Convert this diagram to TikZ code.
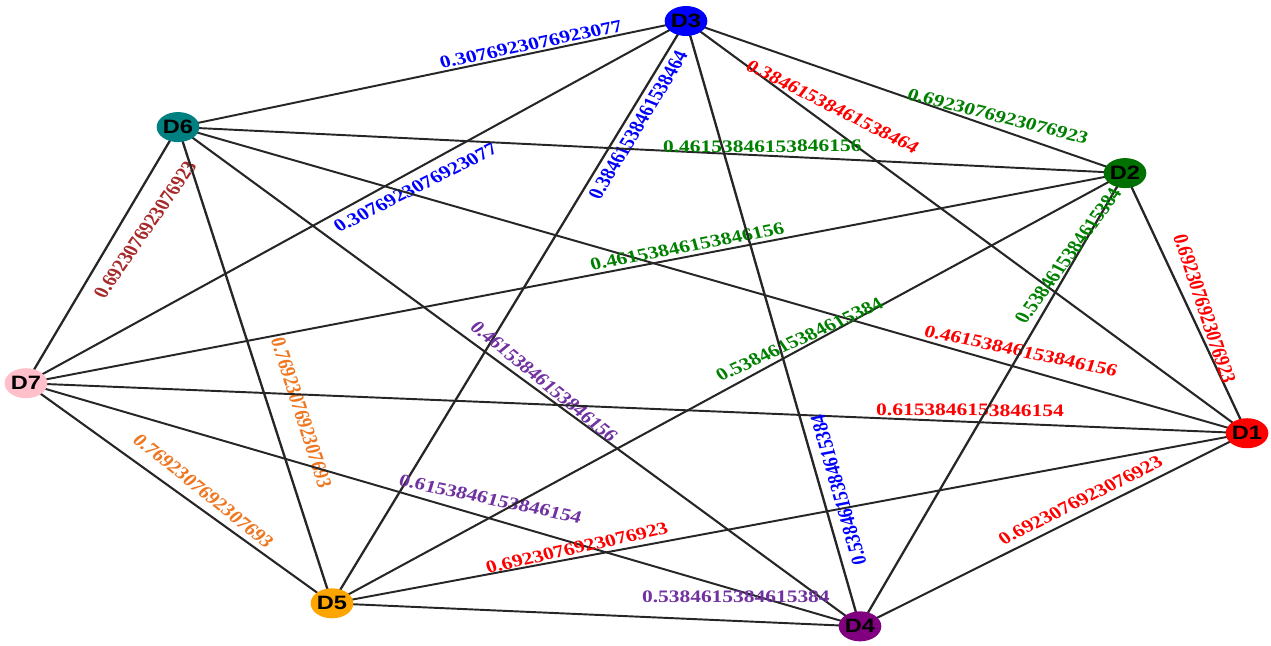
\documentclass[tikz,border=0pt]{standalone}
\usepackage{fontspec}
\usetikzlibrary{shapes.geometric,backgrounds}
\newfontfamily\lblfont{Liberation Serif}
\newfontfamily\vertexfont{Liberation Sans}
\definecolor{nodered}{HTML}{FF0000}
\definecolor{nodegreen}{HTML}{007000}
\definecolor{nodeblue}{HTML}{0000FF}
\definecolor{nodepurple}{HTML}{800080}
\definecolor{nodeorange}{HTML}{FFA500}
\definecolor{nodeteal}{HTML}{008080}
\definecolor{nodepink}{HTML}{FFC0CB}
\definecolor{lblblue}{HTML}{0000FF}
\definecolor{lblgreen}{HTML}{008000}
\definecolor{lblred}{HTML}{FF0000}
\definecolor{lblbrown}{HTML}{A52A2A}
\definecolor{lblorange}{HTML}{EE7722}
\definecolor{lblpurple}{HTML}{7032A0}
\begin{document}
\begin{tikzpicture}[x=0.0163934cm, y=-0.02cm,
      stretched/.style={transform canvas={xscale=1.22}},
      vertex/.style={ellipse, minimum width=0.59cm, minimum height=0.6cm, inner sep=0pt, font=\vertexfont\fontsize{11}{12}\selectfont\bfseries},
      link/.style={draw=black!85, line width=1.1pt},
      weight/.style={sloped, inner sep=1pt, font=\lblfont\fontsize{10}{12}\selectfont\bfseries}]
    \useasboundingbox (0,0) rectangle (1550.62,645);
    \begin{scope}[stretched]
      \foreach \n/\x/\y/\col in {D1/1247/433/nodered, D2/1125/173/nodegreen, D3/686/21/nodeblue, D4/860/626/nodepurple, D5/332/603/nodeorange, D6/178/127/nodeteal, D7/26/383/nodepink} {
        \node[vertex, fill=\col] (\n) at (\x, \y) {\n};
      }
    \end{scope}
    \begin{scope}[on background layer]
      \begin{scope}[stretched]
        \foreach \a/\b/\t/\side/\d/\r/\col/\w in {
            D6/D3/0.70/above/0/0/lblblue/0.3076923076923077,
            D7/D3/0.575/below/3.7/-2.2/lblblue/0.3076923076923077,
            D5/D3/0.83/below/1.4/0/lblblue/0.38461538461538464,
            D3/D2/0.70/above/1.8/5.8/lblgreen/0.6923076923076923,
            D3/D1/0.24/above/4.5/10.4/lblred/0.38461538461538464,
            D6/D2/0.617/above/0.2/3.7/lblgreen/0.46153846153846156,
            D6/D1/0.783/above/4.5/4.7/lblred/0.46153846153846156,
            D7/D6/0.637/below/6.8/-3.6/lblbrown/0.6923076923076923,
            D6/D5/0.613/above/9/0/lblorange/0.7692307692307693,
            D6/D4/0.524/above/0.8/-3.1/lblpurple/0.46153846153846156,
            D7/D2/0.604/above/0.6/0/lblgreen/0.46153846153846156,
            D7/D1/0.773/above/1.7/2.4/lblred/0.6153846153846154,
            D7/D5/0.539/above/3.6/-3.1/lblorange/0.7692307692307693,
            D7/D4/0.549/above/5.5/5.3/lblpurple/0.6153846153846154,
            D5/D2/0.596/above/0/-4.4/lblgreen/0.5384615384615384,
            D5/D1/0.271/above/0.6/2.4/lblred/0.6923076923076923,
            D5/D4/0.763/above/8.7/3/lblpurple/0.5384615384615384,
            D4/D2/0.81/above/-1.3/-5.4/lblgreen/0.5384615384615384,
            D4/D1/0.592/above/2.8/0/lblred/0.6923076923076923,
            D2/D1/0.535/above/2/-5.7/lblred/0.6923076923076923} {
          \draw[link] (\a.center) -- (\b.center) node[weight, pos=\t, \side=\d pt, rotate=\r, text=\col] {\w};
        }
        \draw[link] (D4.center) -- (D3.center) node[weight, allow upside down, pos=0.22, below=3.1pt, text=lblblue] {0.5384615384615384};
      \end{scope}
    \end{scope}
\end{tikzpicture}
\end{document}
